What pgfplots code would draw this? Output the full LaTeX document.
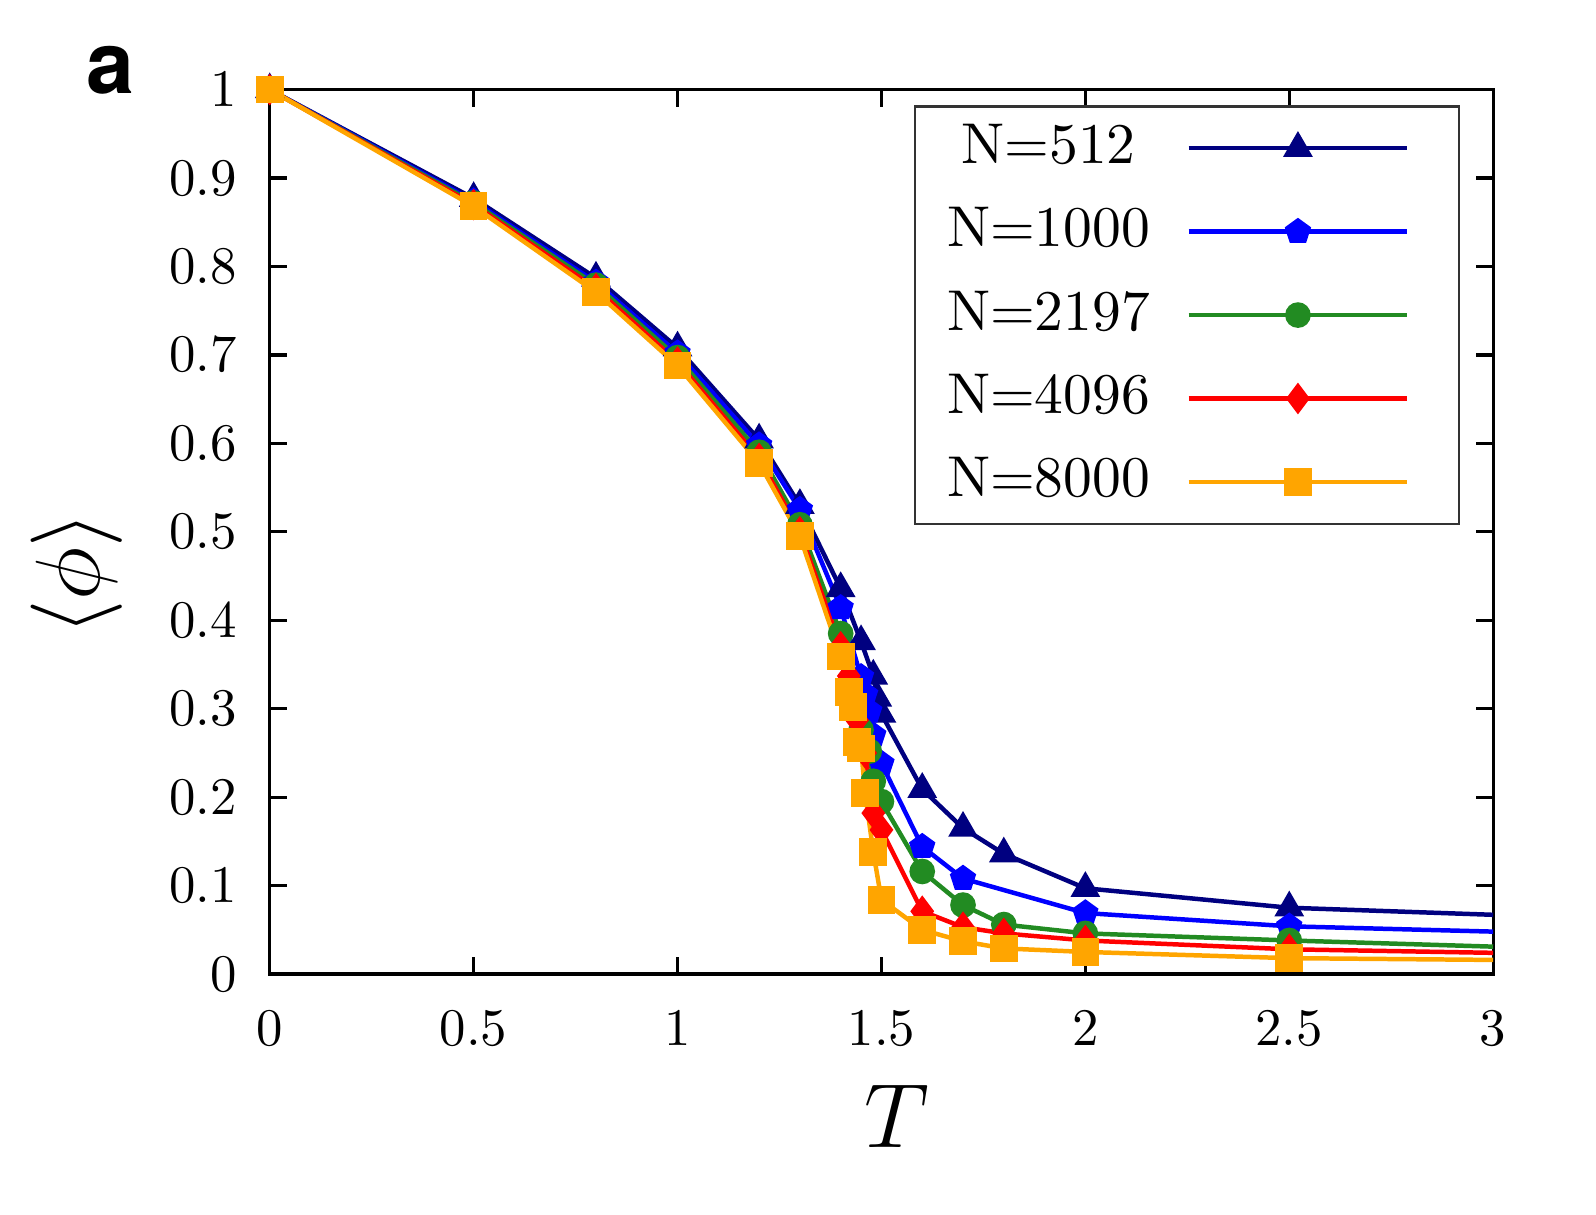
\documentclass[border=0pt]{standalone}
\usepackage{fontspec}
\usepackage{pgfplots}
\pgfplotsset{compat=1.18}
\newfontfamily\heros{TeX Gyre Heros}

\definecolor{cNavy}{RGB}{0,0,128}
\definecolor{cBlue}{RGB}{0,0,255}
\definecolor{cGreen}{RGB}{34,139,34}
\definecolor{cRed}{RGB}{255,0,0}
\definecolor{cOrange}{RGB}{255,165,0}

% order parameter <phi> versus temperature T for five system sizes
\pgfplotstableread{
T     phi
0     1.000
0.5   0.877
0.8   0.787
1.0   0.708
1.2   0.604
1.3   0.530
1.4   0.436
1.45  0.376
1.48  0.337
1.49  0.312
1.5   0.294
1.6   0.209
1.7   0.165
1.8   0.136
2.0   0.097
2.5   0.075
3.0   0.067
}\dataA
\pgfplotstableread{
T     phi
0     1.000
0.5   0.874
0.8   0.782
1.0   0.702
1.2   0.598
1.3   0.525
1.4   0.414
1.45  0.336
1.46  0.316
1.47  0.297
1.48  0.270
1.5   0.238
1.6   0.144
1.7   0.108
2.0   0.069
2.5   0.054
3.0   0.048
}\dataB
\pgfplotstableread{
T     phi
0     1.000
0.5   0.872
0.8   0.779
1.0   0.697
1.2   0.590
1.3   0.508
1.4   0.385
1.45  0.276
1.47  0.252
1.48  0.218
1.5   0.195
1.6   0.116
1.7   0.078
1.8   0.056
2.0   0.046
2.5   0.038
3.0   0.031
}\dataC
\pgfplotstableread{
T     phi
0     1.000
0.5   0.870
0.8   0.775
1.0   0.692
1.2   0.583
1.3   0.500
1.4   0.370
1.42  0.337
1.44  0.287
1.46  0.250
1.48  0.182
1.5   0.163
1.6   0.071
1.7   0.053
1.8   0.046
2.0   0.038
2.5   0.028
3.0   0.024
}\dataD
\pgfplotstableread{
T     phi
0     1.000
0.5   0.868
0.8   0.771
1.0   0.688
1.2   0.578
1.3   0.495
1.4   0.359
1.42  0.319
1.43  0.302
1.44  0.262
1.45  0.255
1.46  0.205
1.48  0.138
1.5   0.084
1.6   0.050
1.7   0.037
1.8   0.029
2.0   0.025
2.5   0.018
3.0   0.016
}\dataE

\begin{document}
\begin{tikzpicture}
\begin{axis}[
  name=ax,
  scale only axis,
  width=231.7pt, height=167.5pt,
  xmin=0, xmax=3, ymin=0, ymax=1,
  xtick={0,0.5,1,1.5,2,2.5,3},
  ytick={0,0.1,0.2,0.3,0.4,0.5,0.6,0.7,0.8,0.9,1},
  tick align=inside,
  major tick length=3.2pt,
  every tick/.style={black, line width=0.6pt},
  axis line style={line width=0.6pt},
  tick label style={font=\fontsize{10}{12}\selectfont, inner sep=0pt},
  yticklabel shift=6.0pt,
  xticklabel shift=6.8pt,
  xlabel={$T$},
  ylabel={$\langle\phi\rangle$},
  label style={font=\fontsize{19}{22}\selectfont},
  xlabel style={at={(axis description cs:0.5,0)}, anchor=base, yshift=-32.8pt, xshift=3pt},
  % the y label is rotated: xshift runs along the axis, yshift away from it
  ylabel style={at={(axis description cs:0,0.5)}, anchor=center, xshift=-8pt, yshift=36.6pt},
  clip=false,
  every axis plot/.append style={line width=0.85pt},
  legend plot pos=right,
  legend cell align=center,
  legend style={
    at={(rel axis cs:1,1)}, anchor=north east,
    xshift=-6.2pt, yshift=-2.9pt,
    draw=black!80, line width=0.5pt,
    inner xsep=0pt, inner ysep=3.5pt,
    row sep=6.9pt, column sep=0.8pt,
    nodes={inner sep=0pt, text width=50.6pt, align=center,
           text height=7.3pt, text depth=1.6pt,
           font=\fontsize{10.9}{13}\selectfont},
  },
  legend image code/.code={
    \draw[#1, mark indices={2}] plot coordinates {(0pt,0pt) (20.7pt,0pt) (41.4pt,0pt)};
    \path (50.8pt,0pt);
  },
]
\addplot[color=cNavy, mark=triangle*, mark size=2.4pt, mark indices={1,...,16}] table[x=T,y=phi] {\dataA};
\addlegendentry{N=512}
\addplot[color=cBlue, mark=pentagon*, mark size=2.1pt, mark indices={1,...,16}] table[x=T,y=phi] {\dataB};
\addlegendentry{N=1000}
\addplot[color=cGreen, mark=*, mark size=2.0pt, mark indices={1,...,16}] table[x=T,y=phi] {\dataC};
\addlegendentry{N=2197}
\addplot[color=cRed, mark=diamond*, mark size=2.3pt, mark indices={1,...,17}] table[x=T,y=phi] {\dataD};
\addlegendentry{N=4096}
\addplot[color=cOrange, mark=square*, mark size=2.2pt, mark indices={1,...,19}] table[x=T,y=phi] {\dataE};
\addlegendentry{N=8000}

\node[anchor=base, xshift=-30.1pt, yshift=-0.8pt, inner sep=0pt]
  at (rel axis cs:0,1) {\heros\bfseries\fontsize{16.3}{18}\selectfont a};
\end{axis}
\pgfresetboundingbox
\useasboundingbox ([xshift=-51.08pt,yshift=-45.45pt]ax.south west)
  rectangle ([xshift=19.47pt,yshift=16.97pt]ax.north east);
\end{tikzpicture}
\end{document}
